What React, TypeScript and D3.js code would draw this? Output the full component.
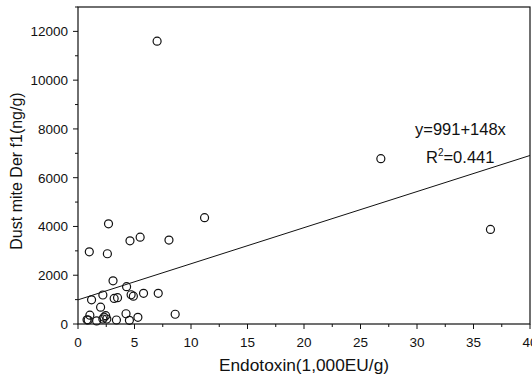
import React from "react";
import * as d3 from "d3";

// endotoxin (1,000 EU/g) vs Der f1 (ng/g)
const endotoxin = [
  7.0, 26.8, 36.5, 11.2, 2.7, 1.0, 2.6, 4.6, 5.5, 8.05, 3.1, 4.3, 1.2, 2.2, 3.2,
  3.5, 4.7, 4.9, 5.8, 7.1, 2.0, 8.6, 1.05, 2.45, 4.25, 5.3, 0.9, 1.65, 2.2, 2.55,
  3.4, 4.55, 2.3, 0.8,
];
const derF1 = [
  11600, 6780, 3880, 4360, 4110, 2960, 2880, 3410, 3560, 3440, 1770, 1530, 990,
  1190, 1050, 1080, 1200, 1140, 1260, 1260, 690, 400, 360, 340, 420, 275, 165,
  125, 205, 205, 165, 150, 280, 170,
];

const xTicks = [0, 5, 10, 15, 20, 25, 30, 35, 40];
const yTicks = [0, 2000, 4000, 6000, 8000, 10000, 12000];

const intercept = 991;
const slope = 148;

const W = 532;
const H = 378;
const margin = { top: 7, right: 2, bottom: 54, left: 78 };

export default function App() {
  const x = d3.scaleLinear().domain([0, 40]).range([margin.left, W - margin.right]);
  const y = d3.scaleLinear().domain([0, 13000]).range([H - margin.bottom, margin.top]);

  const xMinor = d3.range(0, 40.01, 2.5);
  const yMinor = d3.range(0, 13001, 1000);

  const line = d3
    .line<number>()
    .x((d) => x(d))
    .y((d) => y(intercept + slope * d));

  const font = "'Liberation Sans', Arial, sans-serif";
  const x0 = x(0);
  const y0 = y(0);

  return (
    <svg
      width={W}
      height={H}
      style={{ position: "fixed", left: 0, top: 0, background: "#fff" }}
      fontFamily={font}
    >
      {/* frame */}
      <rect
        x={x(0)}
        y={y(13000)}
        width={x(40) - x(0)}
        height={y(0) - y(13000)}
        fill="none"
        stroke="#111"
        strokeWidth={1.2}
      />

      {/* x axis ticks */}
      {xMinor.map((t) => (
        <line
          key={"xm" + t}
          x1={x(t)}
          x2={x(t)}
          y1={y0}
          y2={y0 + (t % 5 === 0 ? 5 : 3)}
          stroke="#111"
        />
      ))}
      {xTicks.map((t) => (
        <text key={"xt" + t} x={x(t)} y={y0 + 23} fontSize={13.5} textAnchor="middle" fill="#111">
          {t}
        </text>
      ))}

      {/* y axis ticks */}
      {yMinor.map((t) => (
        <line
          key={"ym" + t}
          x1={x0}
          x2={x0 - (t % 2000 === 0 ? 5 : 3)}
          y1={y(t)}
          y2={y(t)}
          stroke="#111"
        />
      ))}
      {yTicks.map((t) => (
        <text key={"yt" + t} x={x0 - 10} y={y(t) + 5} fontSize={13.5} textAnchor="end" fill="#111">
          {t}
        </text>
      ))}

      {/* regression line */}
      <path d={line([0, 40]) || ""} fill="none" stroke="#111" strokeWidth={1} />

      {/* points */}
      {endotoxin.map((e, i) => (
        <circle
          key={i}
          cx={x(e)}
          cy={y(derF1[i])}
          r={4}
          fill="none"
          stroke="#111"
          strokeWidth={1.2}
        />
      ))}

      {/* equation */}
      <text x={415} y={135} fontSize={16.5} fill="#111">
        y=991+148x
      </text>
      <text x={426} y={163} fontSize={16.5} fill="#111">
        R<tspan dy={-7} fontSize={10}>2</tspan>
        <tspan dy={7}>=0.441</tspan>
      </text>

      {/* axis titles */}
      <text x={304} y={371} fontSize={17.3} textAnchor="middle" fill="#111">
        Endotoxin(1,000EU/g)
      </text>
      <text
        transform={`translate(22,171) rotate(-90)`}
        fontSize={16}
        textAnchor="middle"
        fill="#111"
      >
        Dust mite Der f1(ng/g)
      </text>
    </svg>
  );
}
